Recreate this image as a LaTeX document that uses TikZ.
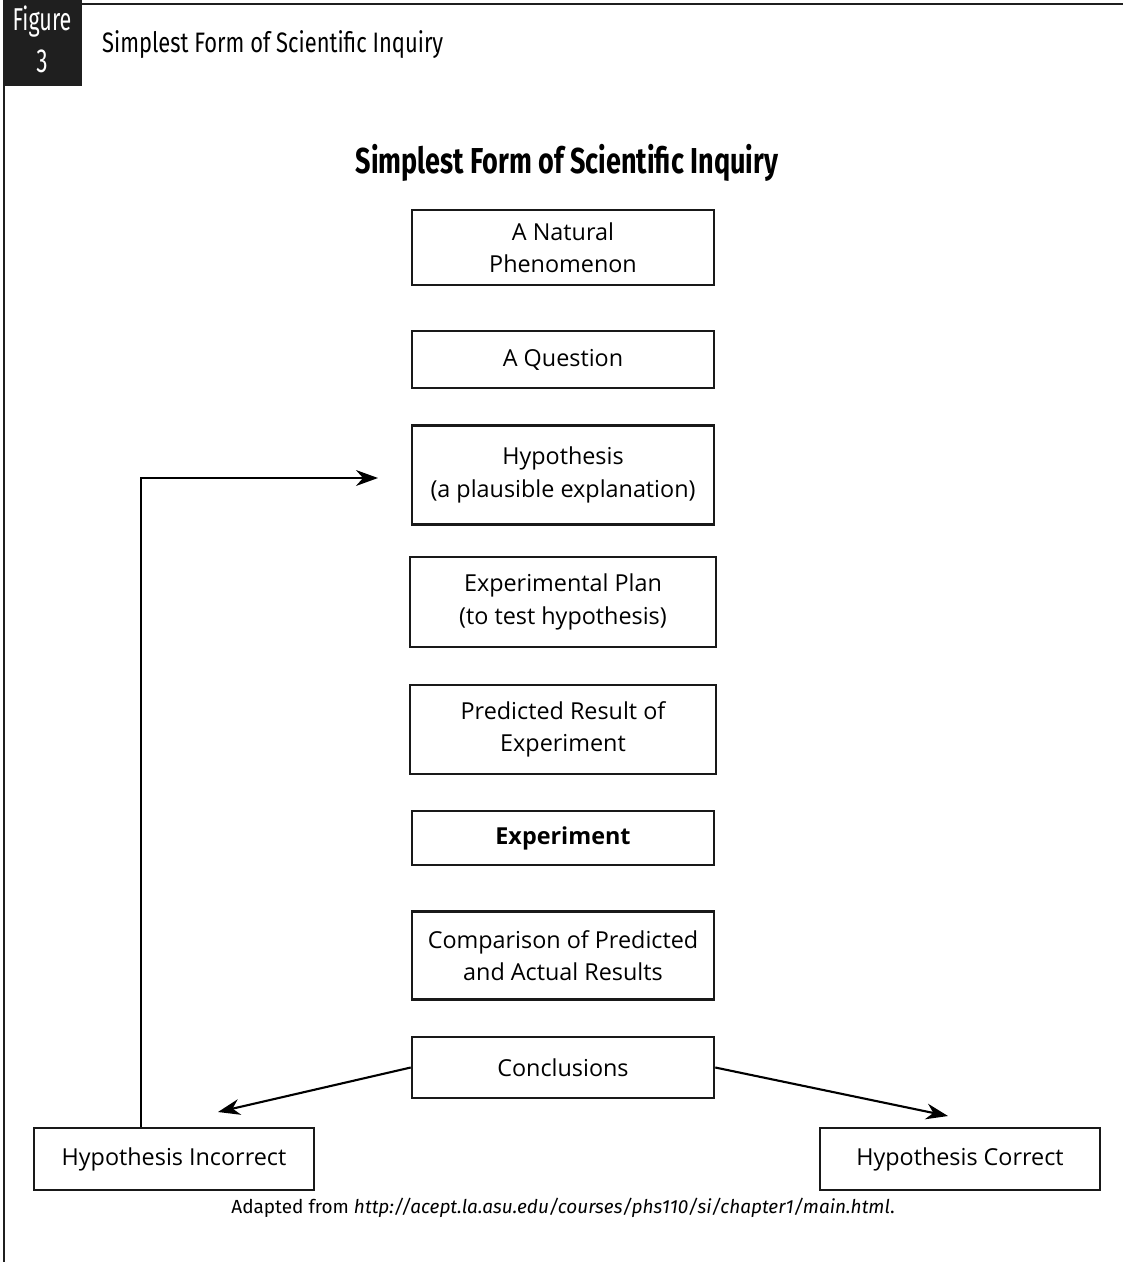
\documentclass[tikz,border=0pt]{standalone}
\usepackage{fontspec}
\setmainfont{Open Sans}
\newfontfamily\condfont[FakeStretch=0.78]{Fira Sans}
\newfontfamily\tabfont[FakeStretch=0.68]{Fira Sans}
\newfontfamily\condboldfont[FakeStretch=0.75]{Fira Sans Bold}
\newfontfamily\notefont{Fira Sans}
\usetikzlibrary{positioning,arrows.meta}

\begin{document}
\begin{tikzpicture}[x=0.02cm,y=-0.02cm,
  stage/.style={draw=black!90,line width=1.5pt,minimum width=6.04cm,align=center,
    font=\fontsize{13.3}{18.5}\selectfont,inner sep=0pt},
  link/.style={line width=1.2pt,-{Stealth[length=12.5pt,width=9pt,inset=4pt]}}]

\useasboundingbox (0,0) rectangle (1123,1262);

% frame and tab
\fill[black!88] (3,0) rectangle (82,86);
\draw[line width=1.7pt,black!88] (82,4) -- (1123,4);
\draw[line width=1.7pt,black!88] (4,86) -- (4,1262);
\node[text=white,font=\tabfont\fontsize{18}{18}\selectfont] (figword) at (42,22) {Figure};
\node[text=white,font=\tabfont\fontsize{19}{19}\selectfont] (fignum) at (42,61) {3};
\node[anchor=west,font=\condfont\fontsize{16}{16}\selectfont] (header) at (96,45) {Simplest Form of Scientific Inquiry};

\node[font=\condboldfont\fontsize{20.5}{20.5}\selectfont] (title) at (567,163) {Simplest Form of Scientific Inquiry};

% the steps
\node[stage,minimum height=1.5cm] (nat) at (563,247.5) {A Natural\\Phenomenon};
\node[stage,minimum height=1.14cm] (quest) at (563,359.5) {A Question};
\node[stage,minimum height=1.98cm] (hyp) at (563,475) {Hypothesis\\(a plausible explanation)};
\node[stage,minimum width=6.12cm,minimum height=1.8cm] (plan) at (563,602) {Experimental Plan\\(to test hypothesis)};
\node[stage,minimum width=6.12cm,minimum height=1.78cm] (pred) at (563,729.5) {Predicted Result of\\Experiment};
\node[stage,minimum height=1.08cm,font=\fontsize{13.3}{18.5}\selectfont\bfseries] (exp) at (563,838) {Experiment};
\node[stage,minimum height=1.76cm] (comp) at (563,955.5) {Comparison of Predicted\\and Actual Results};
\node[stage,minimum height=1.22cm] (concl) at (563,1067.5) {Conclusions};

\node[stage,minimum width=5.6cm,minimum height=1.24cm] (wrong) at (174,1159) {Hypothesis Incorrect};
\node[stage,minimum width=5.6cm,minimum height=1.24cm] (right) at (960,1159) {Hypothesis Correct};

% arrows
\coordinate (wrongtip) at (218,1112);
\coordinate (righttip) at (948,1116);
\coordinate (loop) at (141,478);
\coordinate (hyptip) at (378,478);

\draw[link] (concl.west) -- (wrongtip);
\draw[link] (concl.east) -- (righttip);
\draw[link] (wrong.north -| loop) -- (loop) -- (hyptip);

\node[font=\notefont\fontsize{10.8}{13}\selectfont] (source) at (563,1208) {Adapted from \textit{http://acept.la.asu.edu/courses/phs110/si/chapter1/main.html}.};

\end{tikzpicture}
\end{document}
